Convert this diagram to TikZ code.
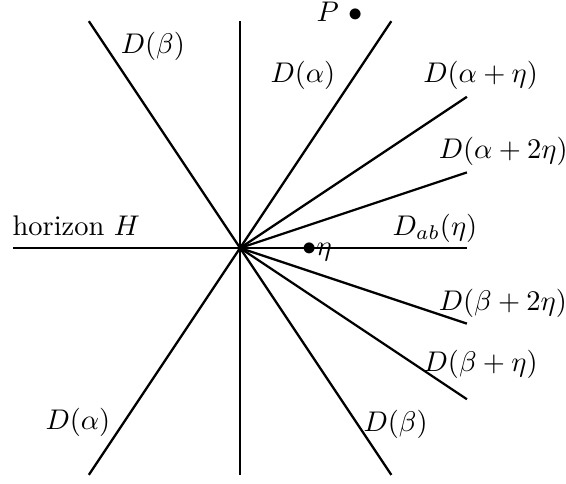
\documentclass[tikz,border=0pt]{standalone}
\usepackage{tikz}
\RequirePackage{amsmath,amsfonts,amssymb}

\tikzset{
  recta/.style={line width=1.7pt, black},
  etiq/.style={scale=2.14, inner sep=0pt, anchor=base west}
}

\begin{document}
\begin{tikzpicture}
  % Marco de la figura
  \useasboundingbox (-6.35,-6.22) rectangle (8.62,6.56);

  % Punto de corte de todas las rectas
  \coordinate (O) at (0,0);

  % Horizonte y vertical
  \draw[recta] (-6,0) -- (O) -- (6,0);
  \draw[recta] (0,-6) -- (O) -- (0,6);

  % Rectas D(alpha) y D(beta)
  \draw[recta] (-4,-6) -- (O) -- (4,6);
  \draw[recta] (-4,6) -- (O) -- (4,-6);

  % Abanico de rectas a la derecha
  \draw[recta] (O) -- (6,4);
  \draw[recta] (O) -- (6,2);
  \draw[recta] (O) -- (6,-2);
  \draw[recta] (O) -- (6,-4);

  % Etiquetas
  \node[etiq] (lH) at (-6.03,0.32) {horizon $H$};
  \node[etiq] (lAu) at (0.79,4.37) {$D(\alpha)$};
  \node[etiq] (lAl) at (-5.16,-4.81) {$D(\alpha)$};
  \node[etiq] (lBu) at (-3.17,5.15) {$D(\beta)$};
  \node[etiq] (lBl) at (3.25,-4.86) {$D(\beta)$};
  \node[etiq] (lAe) at (4.83,4.37) {$D(\alpha+\eta)$};
  \node[etiq] (lA2e) at (5.24,2.38) {$D(\alpha+2\eta)$};
  \node[etiq] (lDab) at (4.02,0.34) {$D_{ab}(\eta)$};
  \node[etiq] (lB2e) at (5.24,-1.64) {$D(\beta+2\eta)$};
  \node[etiq] (lBe) at (4.84,-3.27) {$D(\beta+\eta)$};

  % Puntos P y eta
  \node[etiq] (P) at (2.01,5.99) {$P$ $\bullet$};
  \node[etiq] (eta) at (1.63,-0.19) {$\bullet\eta$};
\end{tikzpicture}
\end{document}
